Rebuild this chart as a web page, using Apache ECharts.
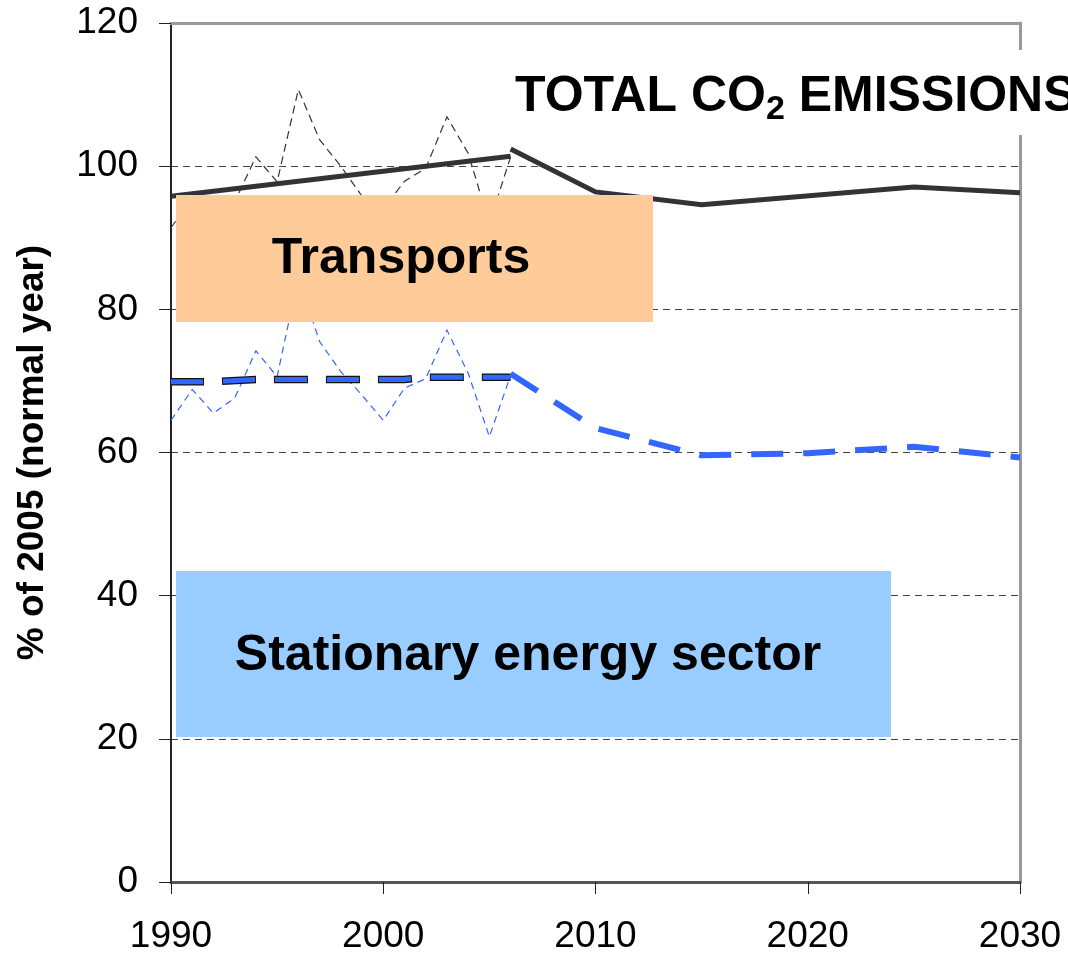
<!DOCTYPE html>
<html>
<head>
<meta charset="utf-8">
<script src="https://cdn.jsdelivr.net/npm/echarts@6/dist/echarts.min.js"></script>
<style>
  html, body { margin: 0; padding: 0; background: #fff; }
  #chartDom { width: 1068px; height: 956px; }
</style>
</head>
<body>
<div id="chartDom"></div>
<script>
// annual values, % of 2005 (normal year)
var years = [1990, 1991, 1992, 1993, 1994, 1995, 1996, 1997, 1998, 1999, 2000, 2001, 2002, 2003, 2004, 2005, 2006];
var totalAnnual = [91.4, 95.5, 92.5, 95.0, 101.3, 97.8, 110.7, 103.7, 100.0, 95.8, 94.0, 97.9, 99.7, 106.9, 101.8, 92.0, 101.3];
var stationaryAnnual = [64.5, 68.8, 65.5, 67.6, 74.2, 70.6, 84.5, 75.5, 71.3, 68.0, 64.5, 69.0, 70.3, 77.1, 71.1, 62.2, 70.8];

// normal-year trend (history)
var totalTrendYears = [1990, 2006];
var totalTrend = [95.8, 101.4];
var statTrendYears = [1990, 1992, 1994, 2001, 2002, 2006];
var statTrend = [69.9, 69.9, 70.2, 70.2, 70.5, 70.5];

// projections
var totalProjYears = [2006, 2010, 2015, 2025, 2030];
var totalProj = [102.4, 96.4, 94.6, 97.1, 96.3];
var statProjYears = [2006, 2010, 2015, 2020, 2025, 2030];
var statProj = [71.0, 63.4, 59.6, 59.9, 60.8, 59.3];

var xTicks = { min: 1990, max: 2030, interval: 10 };
var yTicks = { min: 0, max: 120, interval: 20 };

var FONT = 'Liberation Sans, Arial, sans-serif';

function pairs(xs, ys) {
    return xs.map(function (x, i) { return [x, ys[i]]; });
}

function lineSeries(data, color, width, dash, z, offset) {
    return {
        type: 'line',
        data: data,
        symbol: 'none',
        z: z,
        lineStyle: { color: color, width: width, type: dash, dashOffset: offset || 0, cap: 'butt', join: 'miter' }
    };
}

var myChart = echarts.init(document.getElementById('chartDom'));

var option = {
    animation: false,
    backgroundColor: '#fff',
    grid: { left: 171, right: 48, top: 23, bottom: 74, containLabel: false, outerBoundsMode: 'none' },
    xAxis: [{
        type: 'value',
        min: xTicks.min, max: xTicks.max, interval: xTicks.interval,
        axisLine: { show: true, onZero: false, lineStyle: { color: '#555', width: 3 } },
        axisTick: { show: true, length: 12, lineStyle: { color: '#222', width: 1 } },
        axisLabel: { fontSize: 37, color: '#000', fontFamily: FONT, margin: 36, formatter: function (v) { return String(v); } },
        splitLine: { show: false }
    }, {
        type: 'value', position: 'top',
        min: xTicks.min, max: xTicks.max,
        axisLine: { show: true, onZero: false, lineStyle: { color: '#999', width: 3 } },
        axisTick: { show: false }, axisLabel: { show: false }, splitLine: { show: false }
    }],
    yAxis: [{
        type: 'value',
        min: yTicks.min, max: yTicks.max, interval: yTicks.interval,
        name: '% of 2005 (normal year)',
        nameLocation: 'middle',
        nameGap: 120,
        nameRotate: 90,
        nameTextStyle: { fontSize: 37, fontWeight: 'bold', color: '#000', fontFamily: FONT },
        axisLine: { show: true, onZero: false, lineStyle: { color: '#222', width: 2 } },
        axisTick: { show: true, length: 12, lineStyle: { color: '#222', width: 1 } },
        axisLabel: { fontSize: 37, color: '#000', fontFamily: FONT, margin: 33 },
        splitLine: { show: true, lineStyle: { color: '#444', width: 1, type: [7, 5] } }
    }, {
        type: 'value', position: 'right',
        min: yTicks.min, max: yTicks.max,
        axisLine: { show: true, onZero: false, lineStyle: { color: '#999', width: 3 } },
        axisTick: { show: false }, axisLabel: { show: false }, splitLine: { show: false }
    }],
    series: [
        lineSeries(pairs(years, totalAnnual), '#333', 1.2, [8, 5], 3),
        lineSeries(pairs(years, stationaryAnnual), '#3366ff', 1.2, [7, 5], 3),
        lineSeries(pairs(totalTrendYears, totalTrend), '#333', 5, 'solid', 4),
        lineSeries(pairs(totalProjYears, totalProj), '#333', 5, 'solid', 4),
        // outlined dashes for the history trend
        lineSeries(pairs(statTrendYears, statTrend), '#111', 7.5, [34, 18], 4, 1),
        lineSeries(pairs(statTrendYears, statTrend), '#3366ff', 5, [32, 20], 5),
        lineSeries(pairs(statProjYears, statProj), '#3366ff', 6, [32, 20], 5)
    ],
    graphic: [
        { type: 'rect', z: 100, shape: { x: 176, y: 195, width: 477, height: 127 }, style: { fill: '#ffcc99' } },
        { type: 'text', z: 101, style: { x: 401, y: 259, text: 'Transports', fontSize: 50, fontWeight: 'bold', fontFamily: FONT, fill: '#000', align: 'center', verticalAlign: 'middle' } },
        { type: 'rect', z: 100, shape: { x: 176, y: 571, width: 715, height: 166 }, style: { fill: '#99ccff' } },
        { type: 'text', z: 101, style: { x: 528, y: 656, text: 'Stationary energy sector', fontSize: 50, fontWeight: 'bold', fontFamily: FONT, fill: '#000', align: 'center', verticalAlign: 'middle' } },
        { type: 'rect', z: 100, shape: { x: 498, y: 50, width: 580, height: 85 }, style: { fill: '#fff' } },
        { type: 'text', z: 101, style: {
            x: 515, y: 67, verticalAlign: 'top',
            text: '{a|TOTAL CO}{b|2}{a| EMISSIONS}',
            rich: {
                a: { fontSize: 50, fontWeight: 'bold', fontFamily: FONT, fill: '#000', lineHeight: 60 },
                b: { fontSize: 34, fontWeight: 'bold', fontFamily: FONT, fill: '#000', lineHeight: 22, verticalAlign: 'bottom' }
            }
        } }
    ]
};

myChart.setOption(option);
</script>
</body>
</html>
